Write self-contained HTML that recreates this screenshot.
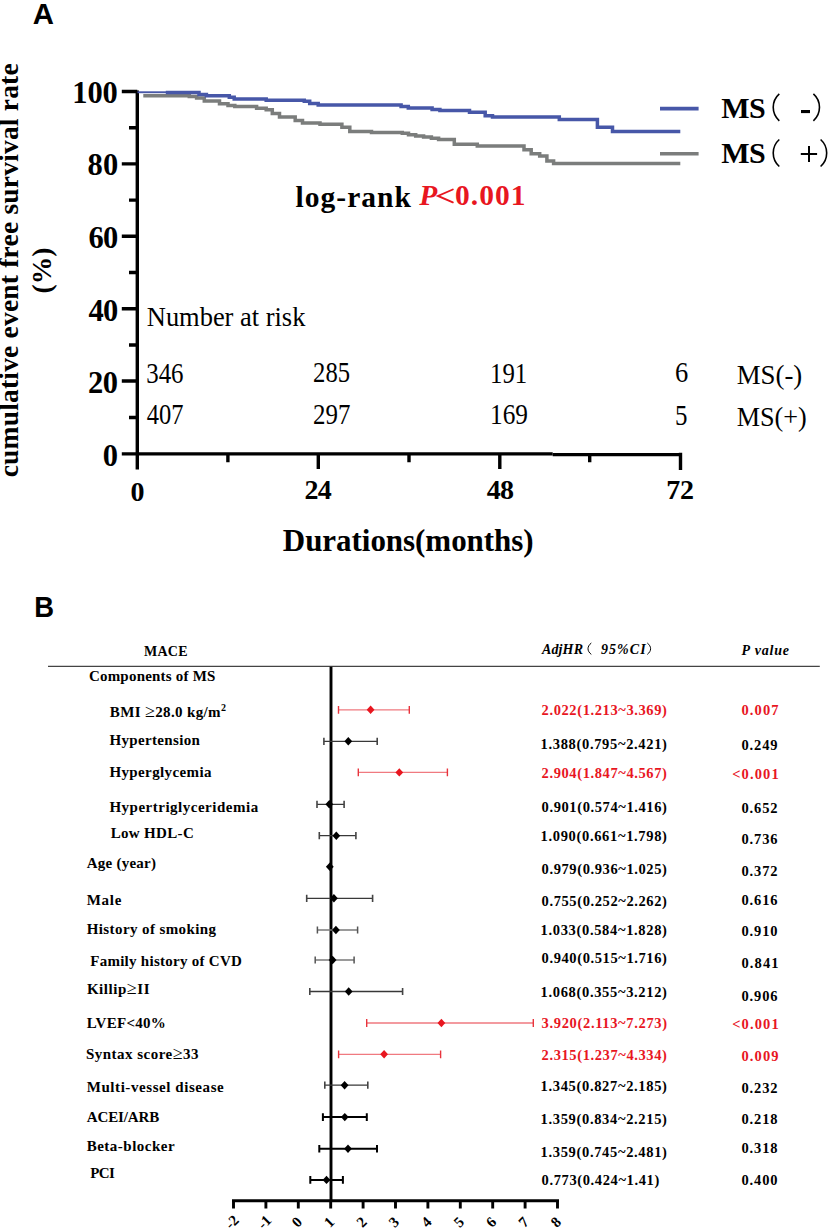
<!DOCTYPE html>
<html><head><meta charset="utf-8"><title>KM and forest plot</title>
<style>
html,body{margin:0;padding:0;background:#fff;width:828px;height:1229px;overflow:hidden;}
svg{display:block;}
text{font-family:"Liberation Serif",serif;}
.sans{font-family:"Liberation Sans",sans-serif;font-weight:bold;}
.b{font-weight:bold;}
.red{fill:#e8161f;}
</style></head><body>
<svg width="828" height="1229" viewBox="0 0 828 1229">
<rect width="828" height="1229" fill="#fff"/>
<text class="sans" x="32.8" y="24.2" font-size="30" textLength="21.2" lengthAdjust="spacingAndGlyphs">A</text>
<text class="sans" x="34.2" y="617.4" font-size="30" textLength="19.8" lengthAdjust="spacingAndGlyphs">B</text>

<text class="b" font-size="27.5" text-anchor="middle" textLength="414" lengthAdjust="spacing" transform="translate(17.8,270.3) rotate(-90)">cumulative event free survival rate</text>
<text class="b" font-size="27.5" text-anchor="middle" transform="translate(50.7,270.5) rotate(-90)">(%)</text>

<g stroke="#000" stroke-width="3.4" fill="none">
  <path d="M137.3,90.5V469.5"/>
  <path d="M121.8,453.9H552.7"/><path d="M552.7,454.6H682"/>
  <path d="M121.8,91.5H137.3 M121.8,163.9H137.3 M121.8,236.3H137.3 M121.8,308.8H137.3 M121.8,381H137.3"/>
  <path d="M129,127.7H137.3 M129,200.1H137.3 M129,272.5H137.3 M129,345H137.3 M129,417.5H137.3"/>
  <path d="M318.3,453.5V469 M499.8,453.5V469 M680.5,452.8V470"/>
  <path d="M227.9,453.5V462.3 M409,453.5V462.3 M589.7,453.5V462.3"/>
</g>

<g fill="none" stroke-width="3.5" stroke-linejoin="miter" stroke-linecap="butt">
  <path stroke="#7b7d7c" d="M143.3,95.8H189.3V96.5H196.6V98.1H204.3V100.9H219.5V103.8H228.0V105.5H234.8V106.4H256.6V108.3H266.2V109.7H272.3V113.4H279.5V117.0H295.2V120.6H302.5V123.0H320.0V124.3H341.9V127.2H349.8V131.5H371.5V132.4H402.3V133.3H408.5V134.7H415.7V135.9H423.6V137.1H431.4V138.3H438.6V139.5H454.3V144.3H477.3V145.9H524.0V149.7H531.2V153.7H539.7V156.0H546.9V161.0H553.6V163.4H680.3"/>
  <path stroke="#4757a8" stroke-width="1.9" d="M137.5,92.25H166.5"/>
  <path stroke="#4757a8" d="M165.8,92.6H199.0V94.5H206.4V95.8H229.3V97.2H234.2V99.0H266.2V100.2H304.3V101.3H309.7V103.5H318.2V105.1H401.1V106.5H408.3V107.9H432.1V109.4H439.9V110.6H469.5V112.3H485.2V115.7H492.5V117.1H559.3V119.4H597.4V127.3H612.5V131.6H680.3"/>
  <path stroke="#4757a8" stroke-width="3.6" d="M660,108.6H698.6"/>
  <path stroke="#7b7d7c" stroke-width="3.6" d="M660,153.7H698.6"/>
</g>
<g fill="none" stroke="#000" stroke-width="1.6">
  <path d="M779.3,93.8C771.2,101 771.2,113.6 779.3,120.8"/>
  <path d="M813.4,93.8C821.5,101 821.5,113.6 813.4,120.8"/>
  <path d="M779.3,139.5C771.2,146.7 771.2,159.3 779.3,166.5"/>
  <path d="M820.6,139.5C828.7,146.7 828.7,159.3 820.6,166.5"/>
  <path stroke-width="2" d="M800.8,154H817.1M809,145.9V161.9"/>
  <path stroke-width="1" d="M591.3,643C586.9,646.5 586.9,651 591.3,654.4"/>
  <path stroke-width="1" d="M647.3,643C651.7,646.5 651.7,651 647.3,654.4"/>
</g>

<path d="M452.8,189.5L438,195.9L452.8,202.3" fill="none" stroke="#e8161f" stroke-width="1.9" stroke-linecap="round" stroke-linejoin="miter"/>
<rect x="801" y="110" width="9" height="3.1" fill="#000"/>
<path d="M48,666.4H819.8" stroke="#444" stroke-width="1.3"/>
<g stroke="#000" stroke-width="2.9" fill="none">
  <path d="M331,666.8V1200.7"/>
  <path d="M232,1200.7H559"/>
  <path d="M233.5,1200.7V1208.4 M265.9,1200.7V1208.4 M298.3,1200.7V1208.4 M330.7,1200.7V1208.4 M363.1,1200.7V1208.4 M395.5,1200.7V1208.4 M427.9,1200.7V1208.4 M460.3,1200.7V1208.4 M492.7,1200.7V1208.4 M525.1,1200.7V1208.4 M557.5,1200.7V1208.4"/>
</g>
<g class="b" font-size="15" text-anchor="middle">
  <text transform="translate(235.5,1225.5) rotate(-45)">-2</text>
  <text transform="translate(267.9,1225.5) rotate(-45)">-1</text>
  <text transform="translate(300.3,1225.5) rotate(-45)">0</text>
  <text transform="translate(332.7,1225.5) rotate(-45)">1</text>
  <text transform="translate(365.1,1225.5) rotate(-45)">2</text>
  <text transform="translate(397.5,1225.5) rotate(-45)">3</text>
  <text transform="translate(429.9,1225.5) rotate(-45)">4</text>
  <text transform="translate(462.3,1225.5) rotate(-45)">5</text>
  <text transform="translate(494.7,1225.5) rotate(-45)">6</text>
  <text transform="translate(527.1,1225.5) rotate(-45)">7</text>
  <text transform="translate(559.5,1225.5) rotate(-45)">8</text>
</g>

<g fill="none">
  <path stroke="#f07a80" stroke-width="1.3" d="M338.5,709.8H409.3 M358.3,772.4H447.4 M366.7,1023H533.3 M338.6,1054.3H440.6"/>
  <path stroke="#e8343c" stroke-width="1.4" d="M338.5,705.9V713.6999999999999 M409.3,705.9V713.6999999999999 M358.3,768.5V776.3 M447.4,768.5V776.3 M366.7,1019.1V1026.9 M533.3,1019.1V1026.9 M338.6,1050.3999999999999V1058.2 M440.6,1050.3999999999999V1058.2"/>
  <path stroke="#383838" stroke-width="1.3" d="M323.9,741.3H377.2 M317,804.3H344.1 M319.3,835.7H355.9 M306.7,898.3H372.6 M309.8,991.5H402.6 M324.8,1085.2H367.8"/>
  <path stroke="#444" stroke-width="1.6" d="M323.9,737.6999999999999V744.9 M377.2,737.6999999999999V744.9 M317,800.6999999999999V807.9 M344.1,800.6999999999999V807.9 M319.3,832.1V839.3000000000001 M355.9,832.1V839.3000000000001 M306.7,894.6999999999999V901.9 M372.6,894.6999999999999V901.9 M309.8,987.9V995.1 M402.6,987.9V995.1 M324.8,1081.6000000000001V1088.8 M367.8,1081.6000000000001V1088.8"/>
  <path stroke="#7a7a7a" stroke-width="1.3" d="M317.4,930H357.6 M315.2,960H354.1"/>
  <path stroke="#555" stroke-width="1.5" d="M317.4,926.4V933.6 M357.6,926.4V933.6 M315.2,956.4V963.6 M354.1,956.4V963.6"/>
  <path stroke="#000" stroke-width="2" d="M322.9,1117.1H366.8 M319.3,1148.7H377 M310.3,1179.9H342.9"/>
  <path stroke="#000" stroke-width="2" d="M322.9,1113.3V1120.8999999999999 M366.8,1113.3V1120.8999999999999 M319.3,1144.9V1152.5 M377,1144.9V1152.5 M310.3,1176.1000000000001V1183.7 M342.9,1176.1000000000001V1183.7"/>
</g>
<g>
  <path class="red" d="M370.6,705.6l3.9,4.2l-3.9,4.2l-3.9,-4.2z"/>
  <path class="red" d="M399.3,768.2l3.9,4.2l-3.9,4.2l-3.9,-4.2z"/>
  <path class="red" d="M441.4,1018.8l3.9,4.2l-3.9,4.2l-3.9,-4.2z"/>
  <path class="red" d="M384.1,1050.1l3.9,4.2l-3.9,4.2l-3.9,-4.2z"/>
  <path d="M348.3,737.1l3.9,4.2l-3.9,4.2l-3.9,-4.2z"/>
  <path d="M329.3,800.1l3.9,4.2l-3.9,4.2l-3.9,-4.2z"/>
  <path d="M336.3,831.5l3.9,4.2l-3.9,4.2l-3.9,-4.2z"/>
  <path d="M329.8,862.5l3.9,4.2l-3.9,4.2l-3.9,-4.2z"/>
  <path d="M333.9,894.1l3.9,4.2l-3.9,4.2l-3.9,-4.2z"/>
  <path d="M335.9,925.8l3.9,4.2l-3.9,4.2l-3.9,-4.2z"/>
  <path d="M332.6,955.8l3.9,4.2l-3.9,4.2l-3.9,-4.2z"/>
  <path d="M348.7,987.3l3.9,4.2l-3.9,4.2l-3.9,-4.2z"/>
  <path d="M344.6,1081.0l3.9,4.2l-3.9,4.2l-3.9,-4.2z"/>
  <path d="M344.8,1112.9l3.9,4.2l-3.9,4.2l-3.9,-4.2z"/>
  <path d="M348,1144.5l3.9,4.2l-3.9,4.2l-3.9,-4.2z"/>
  <path d="M326.5,1175.7l3.9,4.2l-3.9,4.2l-3.9,-4.2z"/>
</g>
<text id="yt100" x="117.80" y="103.10" font-size="30.50" class="b" text-anchor="end" textLength="45.55" lengthAdjust="spacing">100</text>
<text id="yt80" x="118.20" y="175.10" font-size="30.50" class="b" text-anchor="end" textLength="30.70" lengthAdjust="spacing">80</text>
<text id="yt60" x="118.20" y="247.70" font-size="30.50" class="b" text-anchor="end" textLength="29.70" lengthAdjust="spacing">60</text>
<text id="yt40" x="118.20" y="320.80" font-size="30.50" class="b" text-anchor="end" textLength="29.70" lengthAdjust="spacing">40</text>
<text id="yt20" x="118.00" y="393.10" font-size="30.50" class="b" text-anchor="end" textLength="30.10" lengthAdjust="spacing">20</text>
<text id="yt0" x="118.00" y="465.70" font-size="30.50" class="b" text-anchor="end" textLength="13.65" lengthAdjust="spacing">0</text>
<text id="xt0" x="137.40" y="500.50" font-size="28.00" class="b" text-anchor="middle" textLength="13.40" lengthAdjust="spacing">0</text>
<text id="xt24" x="318.10" y="498.60" font-size="28.00" class="b" text-anchor="middle" textLength="27.20" lengthAdjust="spacing">24</text>
<text id="xt48" x="500.40" y="499.00" font-size="28.00" class="b" text-anchor="middle" textLength="27.40" lengthAdjust="spacing">48</text>
<text id="xt72" x="680.10" y="499.00" font-size="28.00" class="b" text-anchor="middle" textLength="27.60" lengthAdjust="spacing">72</text>
<text id="dur" x="282.80" y="551.20" font-size="31.00" class="b" textLength="250.87" lengthAdjust="spacing">Durations(months)</text>
<text id="logrank" x="295.40" y="207.00" font-size="29.50" class="b" textLength="115.59" lengthAdjust="spacing">log-rank</text>
<text id="pP" x="419.20" y="205.00" font-size="29.50" class="b red" style="font-style:italic">P</text>
<text id="p001" x="455.00" y="205.00" font-size="29.50" class="b red" textLength="70.58" lengthAdjust="spacing">0.001</text>
<text id="msm" x="721.20" y="117.50" font-size="30.00" class="b" textLength="44.60" lengthAdjust="spacing">MS</text>
<text id="msp" x="721.20" y="162.90" font-size="30.00" class="b" textLength="44.60" lengthAdjust="spacing">MS</text>
<text id="num" x="146.80" y="326.00" font-size="27.00" textLength="158.57" lengthAdjust="spacingAndGlyphs">Number at risk</text>
<text id="r346" x="146.20" y="382.50" font-size="28.50" textLength="37.35" lengthAdjust="spacingAndGlyphs">346</text>
<text id="r285" x="313.10" y="381.70" font-size="28.50" textLength="36.95" lengthAdjust="spacingAndGlyphs">285</text>
<text id="r191" x="490.00" y="382.70" font-size="28.50" textLength="37.15" lengthAdjust="spacingAndGlyphs">191</text>
<text id="r6" x="675.10" y="382.30" font-size="28.50" textLength="13.25" lengthAdjust="spacingAndGlyphs">6</text>
<text id="r407" x="146.70" y="423.90" font-size="28.50" textLength="36.75" lengthAdjust="spacingAndGlyphs">407</text>
<text id="r297" x="313.10" y="424.00" font-size="28.50" textLength="37.35" lengthAdjust="spacingAndGlyphs">297</text>
<text id="r169" x="490.00" y="423.90" font-size="28.50" textLength="37.95" lengthAdjust="spacingAndGlyphs">169</text>
<text id="r5" x="675.10" y="424.90" font-size="28.50" textLength="12.45" lengthAdjust="spacingAndGlyphs">5</text>
<text id="rmsm" x="736.70" y="383.90" font-size="27.00" textLength="65.60" lengthAdjust="spacingAndGlyphs">MS(-)</text>
<text id="rmsp" x="736.70" y="425.60" font-size="27.00" textLength="70.03" lengthAdjust="spacingAndGlyphs">MS(+)</text>
<text id="mace" x="144.10" y="655.70" font-size="14.00" class="b" textLength="43.38" lengthAdjust="spacing">MACE</text>
<text id="adj1" x="541.90" y="654.20" font-size="14.00" class="b" style="font-style:italic" textLength="41.07" lengthAdjust="spacing">AdjHR</text>
<text id="adj3" x="600.90" y="654.20" font-size="14.00" class="b" style="font-style:italic" textLength="44.85" lengthAdjust="spacing">95%CI</text>
<text id="pval" x="741.50" y="655.20" font-size="14.00" class="b" style="font-style:italic" textLength="47.44" lengthAdjust="spacing">P value</text>
<text id="comp" x="88.90" y="680.80" font-size="15.00" class="b" textLength="126.54" lengthAdjust="spacing">Components of MS</text>
<text id="bmi" x="109.80" y="717.10" font-size="15.00" class="b" textLength="116.10" lengthAdjust="spacing">BMI <tspan font-weight="normal" font-size="18">≥</tspan>28.0 kg/m<tspan font-size="10" dy="-6">2</tspan></text>
<text id="hyt" x="109.40" y="745.40" font-size="15.00" class="b" textLength="90.47" lengthAdjust="spacing">Hypertension</text>
<text id="hyg" x="109.40" y="777.30" font-size="15.00" class="b" textLength="102.08" lengthAdjust="spacing">Hyperglycemia</text>
<text id="htg" x="109.40" y="812.30" font-size="15.00" class="b" textLength="148.73" lengthAdjust="spacing">Hypertriglyceridemia</text>
<text id="hdl" x="110.70" y="838.20" font-size="15.00" class="b" textLength="83.02" lengthAdjust="spacing">Low HDL-C</text>
<text id="age" x="86.70" y="867.80" font-size="15.00" class="b" textLength="69.25" lengthAdjust="spacing">Age (year)</text>
<text id="male" x="86.70" y="904.90" font-size="15.00" class="b" textLength="34.68" lengthAdjust="spacing">Male</text>
<text id="hist" x="86.70" y="934.10" font-size="15.00" class="b" textLength="129.32" lengthAdjust="spacing">History of smoking</text>
<text id="fam" x="90.20" y="965.70" font-size="15.00" class="b" textLength="151.65" lengthAdjust="spacing">Family history of CVD</text>
<text id="kil" x="86.90" y="994.30" font-size="15.00" class="b" textLength="62.59" lengthAdjust="spacing">Killip<tspan font-weight="normal" font-size="18">≥</tspan>II</text>
<text id="lvef" x="86.70" y="1028.10" font-size="15.00" class="b" textLength="78.99" lengthAdjust="spacing">LVEF&lt;40%</text>
<text id="syn" x="85.90" y="1059.10" font-size="15.00" class="b" textLength="112.60" lengthAdjust="spacing">Syntax score<tspan font-weight="normal" font-size="18">≥</tspan>33</text>
<text id="mvd" x="86.70" y="1091.60" font-size="15.00" class="b" textLength="137.03" lengthAdjust="spacing">Multi-vessel disease</text>
<text id="acei" x="86.70" y="1121.80" font-size="15.00" class="b" textLength="72.56" lengthAdjust="spacing">ACEI/ARB</text>
<text id="beta" x="86.70" y="1151.40" font-size="15.00" class="b" textLength="87.88" lengthAdjust="spacing">Beta-blocker</text>
<text id="pci" x="90.20" y="1178.00" font-size="15.00" class="b" textLength="24.64" lengthAdjust="spacing">PCI</text>
<text id="v1" x="541.60" y="714.60" font-size="14.50" class="b red" textLength="125.28" lengthAdjust="spacing">2.022(1.213~3.369)</text>
<text id="v2" x="540.60" y="748.80" font-size="14.50" class="b" textLength="126.28" lengthAdjust="spacing">1.388(0.795~2.421)</text>
<text id="v3" x="541.60" y="778.20" font-size="14.50" class="b red" textLength="125.28" lengthAdjust="spacing">2.904(1.847~4.567)</text>
<text id="v4" x="541.60" y="811.60" font-size="14.50" class="b" textLength="125.28" lengthAdjust="spacing">0.901(0.574~1.416)</text>
<text id="v5" x="540.60" y="841.00" font-size="14.50" class="b" textLength="126.28" lengthAdjust="spacing">1.090(0.661~1.798)</text>
<text id="v6" x="541.60" y="873.90" font-size="14.50" class="b" textLength="125.28" lengthAdjust="spacing">0.979(0.936~1.025)</text>
<text id="v7" x="541.60" y="905.50" font-size="14.50" class="b" textLength="125.28" lengthAdjust="spacing">0.755(0.252~2.262)</text>
<text id="v8" x="540.60" y="934.90" font-size="14.50" class="b" textLength="126.28" lengthAdjust="spacing">1.033(0.584~1.828)</text>
<text id="v9" x="541.60" y="963.20" font-size="14.50" class="b" textLength="125.28" lengthAdjust="spacing">0.940(0.515~1.716)</text>
<text id="v10" x="540.60" y="996.80" font-size="14.50" class="b" textLength="126.28" lengthAdjust="spacing">1.068(0.355~3.212)</text>
<text id="v11" x="541.60" y="1028.30" font-size="14.50" class="b red" textLength="125.48" lengthAdjust="spacing">3.920(2.113~7.273)</text>
<text id="v12" x="541.60" y="1060.10" font-size="14.50" class="b red" textLength="125.28" lengthAdjust="spacing">2.315(1.237~4.334)</text>
<text id="v13" x="540.60" y="1091.40" font-size="14.50" class="b" textLength="126.28" lengthAdjust="spacing">1.345(0.827~2.185)</text>
<text id="v14" x="540.60" y="1124.40" font-size="14.50" class="b" textLength="126.28" lengthAdjust="spacing">1.359(0.834~2.215)</text>
<text id="v15" x="540.60" y="1156.80" font-size="14.50" class="b" textLength="126.28" lengthAdjust="spacing">1.359(0.745~2.481)</text>
<text id="v16" x="541.60" y="1185.40" font-size="14.50" class="b" textLength="117.63" lengthAdjust="spacing">0.773(0.424~1.41)</text>
<text id="p1" x="741.50" y="715.40" font-size="14.50" class="b red" textLength="37.03" lengthAdjust="spacing">0.007</text>
<text id="p2" x="741.50" y="750.20" font-size="14.50" class="b" textLength="36.03" lengthAdjust="spacing">0.249</text>
<text id="p3" x="732.20" y="778.60" font-size="14.50" class="b red" textLength="46.49" lengthAdjust="spacing">&lt;0.001</text>
<text id="p4" x="741.50" y="812.80" font-size="14.50" class="b" textLength="36.03" lengthAdjust="spacing">0.652</text>
<text id="p5" x="741.50" y="843.70" font-size="14.50" class="b" textLength="36.03" lengthAdjust="spacing">0.736</text>
<text id="p6" x="741.50" y="876.40" font-size="14.50" class="b" textLength="36.03" lengthAdjust="spacing">0.372</text>
<text id="p7" x="741.50" y="904.80" font-size="14.50" class="b" textLength="36.03" lengthAdjust="spacing">0.616</text>
<text id="p8" x="741.50" y="936.00" font-size="14.50" class="b" textLength="36.03" lengthAdjust="spacing">0.910</text>
<text id="p9" x="741.50" y="968.30" font-size="14.50" class="b" textLength="37.03" lengthAdjust="spacing">0.841</text>
<text id="p10" x="741.50" y="1000.70" font-size="14.50" class="b" textLength="36.03" lengthAdjust="spacing">0.906</text>
<text id="p11" x="732.20" y="1029.10" font-size="14.50" class="b red" textLength="46.49" lengthAdjust="spacing">&lt;0.001</text>
<text id="p12" x="741.50" y="1061.20" font-size="14.50" class="b red" textLength="37.03" lengthAdjust="spacing">0.009</text>
<text id="p13" x="741.50" y="1093.00" font-size="14.50" class="b" textLength="36.03" lengthAdjust="spacing">0.232</text>
<text id="p14" x="741.50" y="1123.70" font-size="14.50" class="b" textLength="36.03" lengthAdjust="spacing">0.218</text>
<text id="p15" x="741.50" y="1153.10" font-size="14.50" class="b" textLength="36.03" lengthAdjust="spacing">0.318</text>
<text id="p16" x="741.50" y="1185.40" font-size="14.50" class="b" textLength="36.03" lengthAdjust="spacing">0.400</text>
</svg>
</body></html>
